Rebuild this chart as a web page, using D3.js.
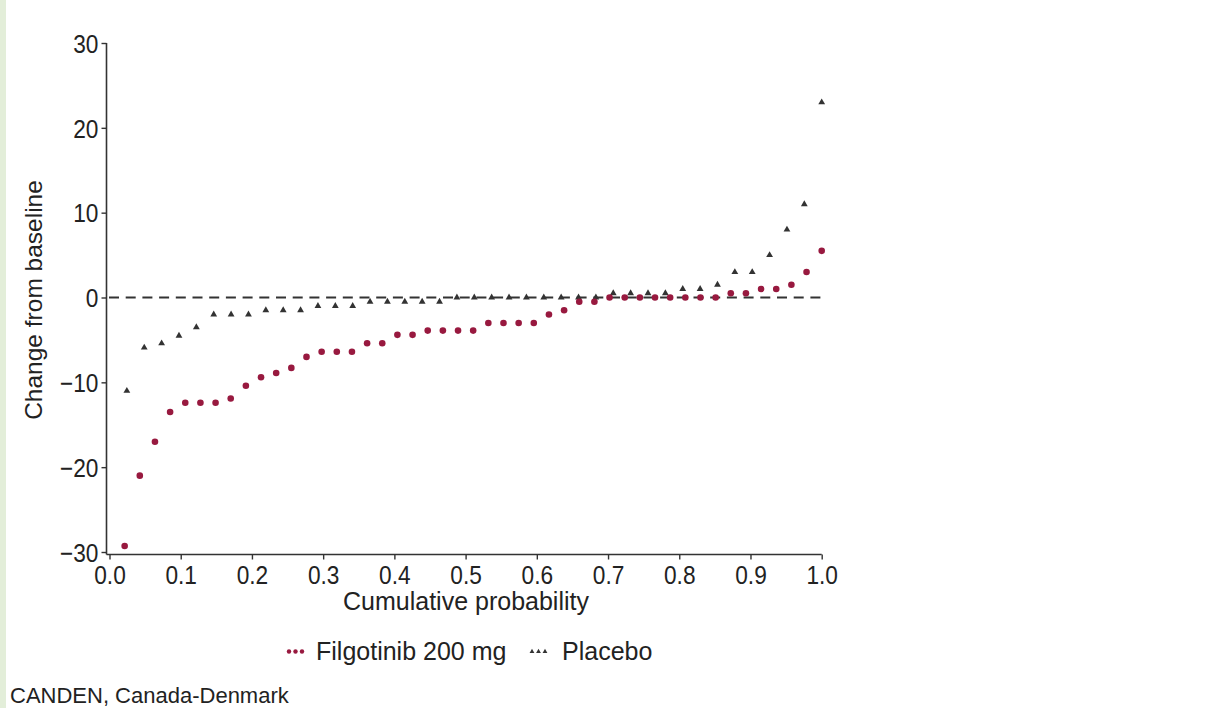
<!DOCTYPE html>
<html>
<head>
<meta charset="utf-8">
<script src="https://cdn.jsdelivr.net/npm/d3@7"></script>
<style>
  html, body { margin: 0; padding: 0; background: #fff; }
  svg { display: block; font-family: "Liberation Sans", Arial, sans-serif; }
</style>
</head>
<body>
<svg id="chart" width="1215" height="708"></svg>
<script>
// values (change from baseline, sorted)
const filgotinib = [
  -29.3, -21, -17, -13.5, -12.4, -12.4, -12.4, -11.9, -10.4, -9.4,
  -8.9, -8.3, -7, -6.4, -6.4, -6.4, -5.4, -5.4, -4.4, -4.4,
  -3.9, -3.9, -3.9, -3.9, -3, -3, -3, -3, -2, -1.5,
  -0.5, -0.5, 0, 0, 0, 0, 0, 0, 0, 0,
  0.5, 0.5, 1, 1, 1.5, 3, 5.5
];
const placebo = [
  -11, -5.9, -5.4, -4.5, -3.5, -2, -2, -2, -1.5, -1.5,
  -1.5, -1, -1, -1, -0.5, -0.5, -0.5, -0.5, -0.5, 0,
  0, 0, 0, 0, 0, 0, 0, 0, 0.5, 0.5,
  0.5, 0.5, 1, 1, 1.5, 3, 3, 5, 8, 11,
  23
];
const xTicks = [0, 0.1, 0.2, 0.3, 0.4, 0.5, 0.6, 0.7, 0.8, 0.9, 1.0];
const yTicks = [-30, -20, -10, 0, 10, 20, 30];
const seriesNames = ['Filgotinib 200 mg', 'Placebo'];

const red = '#98193f';
const dark = '#333';

const svg = d3.select('#chart');

// light green strip on the left edge
svg.append('rect')
  .attr('x', 0).attr('y', 0)
  .attr('width', 6).attr('height', 708)
  .attr('fill', '#e3eed9');

const x = d3.scaleLinear().domain([0, 1]).range([109.5, 821.7]);
const y = d3.scaleLinear().domain([-30, 30]).range([552, 43]);

// cumulative probability of each sorted value
function toPoints(arr) {
  return arr.map(function (v, i) {
    return { p: (i + 1) / arr.length, v: v };
  });
}

// x axis
const gx = svg.append('g')
  .attr('transform', 'translate(0,554.5)')
  .call(d3.axisBottom(x).tickValues(xTicks).tickFormat(d3.format('.1f')).tickSize(5).tickSizeOuter(0));
gx.select('.domain').attr('d', 'M106.5,0H' + x(1)).attr('stroke', dark).attr('stroke-width', 1.6);

// y axis
const gy = svg.append('g')
  .attr('transform', 'translate(106.5,0)')
  .call(d3.axisLeft(y).tickValues(yTicks).tickFormat(function (d) {
    return d < 0 ? '\u2212' + Math.abs(d) : d;
  }).tickSize(5).tickSizeOuter(0));
gy.select('.domain').attr('d', 'M0,' + y(30) + 'V554.5').attr('stroke', dark).attr('stroke-width', 1.6);

svg.selectAll('.tick line').attr('stroke', dark).attr('stroke-width', 1.4);
// tick labels look a bit narrow and tall in the reference
svg.selectAll('.tick text')
  .attr('fill', '#222')
  .attr('font-size', '25.5px')
  .attr('transform', 'scale(0.89,1)')
  .style('font-family', '"Liberation Sans", Arial, sans-serif');
gx.selectAll('.tick text').attr('dy', '0.86em');
gy.selectAll('.tick text').attr('x', -9).attr('dy', '0.36em');

// reference line at zero
svg.append('line')
  .attr('x1', 109).attr('x2', x(1))
  .attr('y1', y(0)).attr('y2', y(0))
  .attr('stroke', dark)
  .attr('stroke-width', 2.2)
  .attr('stroke-dasharray', '10,6.7');

// placebo triangles
svg.append('g')
  .selectAll('path')
  .data(toPoints(placebo))
  .enter()
  .append('path')
  .attr('d', d3.symbol().type(d3.symbolTriangle).size(20))
  .attr('transform', function (d) {
    return 'translate(' + x(d.p) + ',' + y(d.v) + ')';
  })
  .attr('fill', dark);

// filgotinib dots
svg.append('g')
  .selectAll('circle')
  .data(toPoints(filgotinib))
  .enter()
  .append('circle')
  .attr('cx', function (d) { return x(d.p); })
  .attr('cy', function (d) { return y(d.v); })
  .attr('r', 3.3)
  .attr('fill', red);

// axis titles
svg.append('text')
  .attr('x', 466).attr('y', 610)
  .attr('text-anchor', 'middle')
  .attr('font-size', '25px')
  .attr('fill', '#222')
  .text('Cumulative probability');

svg.append('text')
  .attr('transform', 'translate(42,300) rotate(-90)')
  .attr('text-anchor', 'middle')
  .attr('font-size', '24.5px')
  .attr('fill', '#222')
  .text('Change from baseline');

// legend
const legend = svg.append('g');
[0, 1, 2].forEach(function (k) {
  legend.append('circle')
    .attr('cx', 289 + k * 6.5).attr('cy', 651.5)
    .attr('r', 2.2)
    .attr('fill', red);
  legend.append('path')
    .attr('d', d3.symbol().type(d3.symbolTriangle).size(10))
    .attr('transform', 'translate(' + (532 + k * 6.5) + ',651.5)')
    .attr('fill', dark);
});
legend.append('text')
  .attr('x', 316).attr('y', 660)
  .attr('font-size', '25px')
  .attr('fill', '#222')
  .text(seriesNames[0]);
legend.append('text')
  .attr('x', 562).attr('y', 660)
  .attr('font-size', '25px')
  .attr('fill', '#222')
  .text(seriesNames[1]);

// footnote
svg.append('text')
  .attr('x', 10).attr('y', 703)
  .attr('font-size', '22px')
  .attr('fill', '#222')
  .text('CANDEN, Canada-Denmark');
</script>
</body>
</html>
